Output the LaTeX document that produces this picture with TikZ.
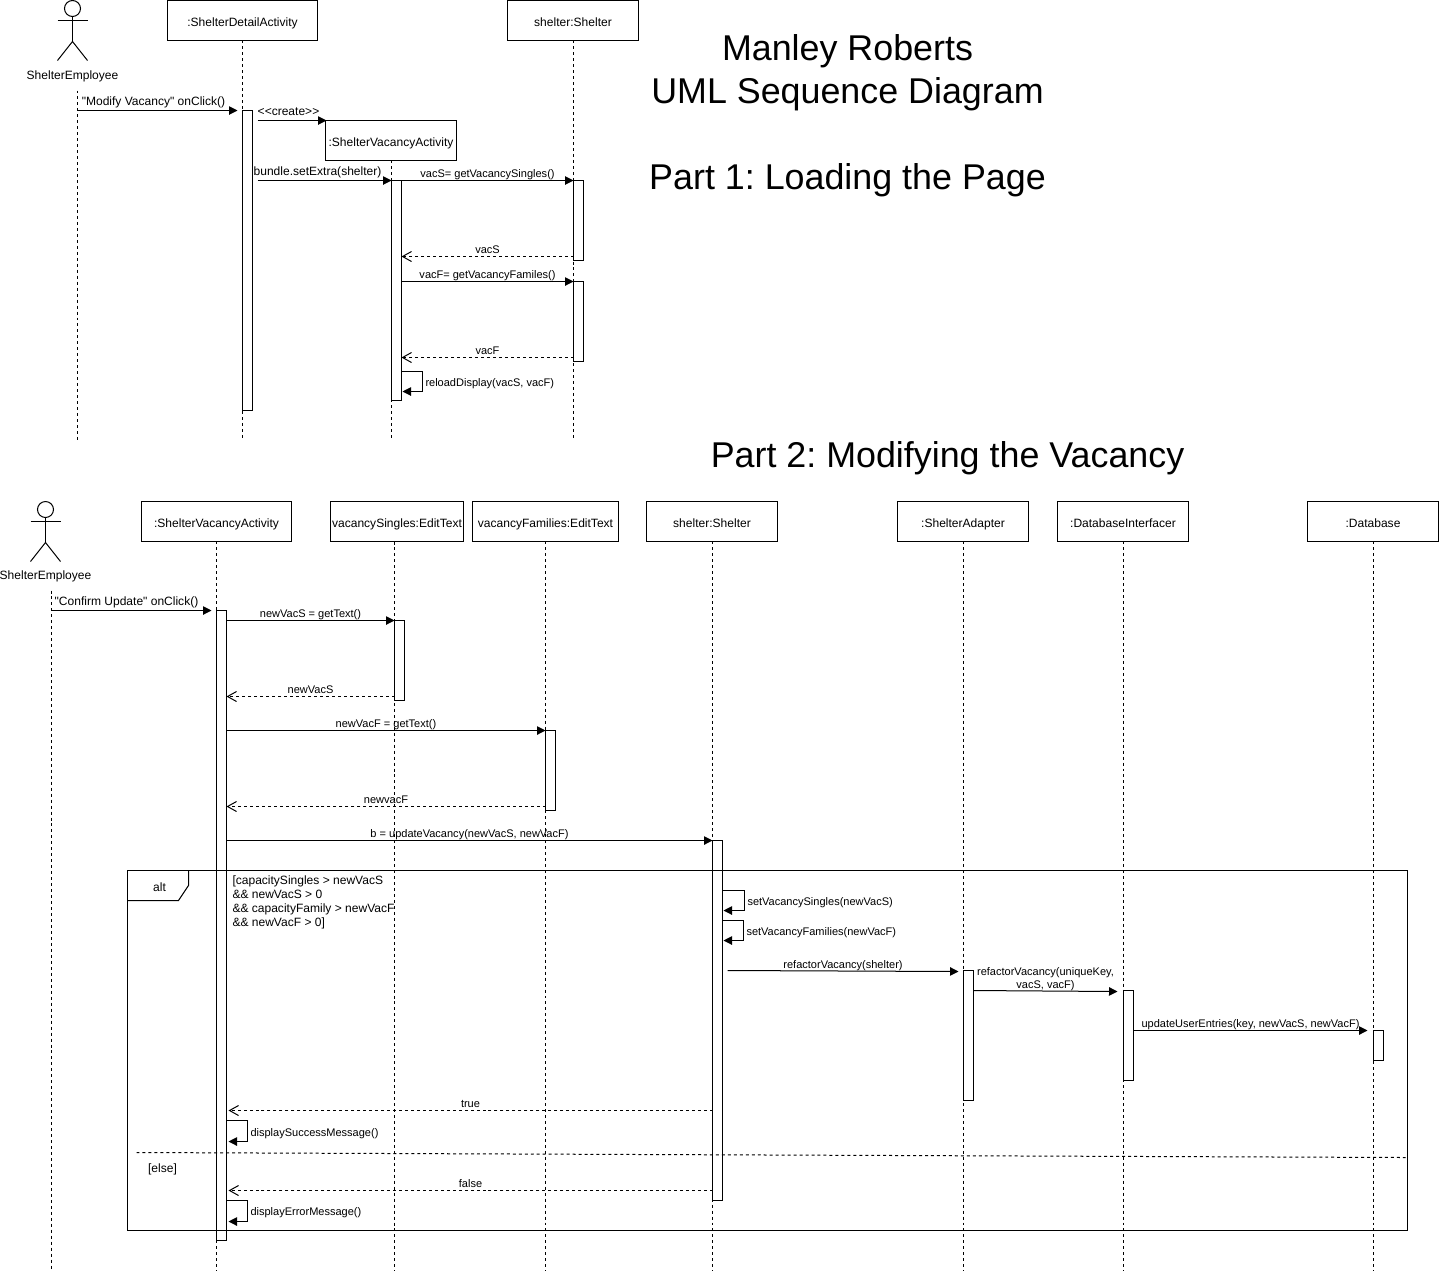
\documentclass[tikz,border=0pt]{standalone}
\usepackage{fontspec}
\setmainfont{Liberation Sans}[Ligatures = TeXOff]
\usetikzlibrary{arrows.meta, positioning}
\frenchspacing
\tikzset{
	uml/.cd,
	text/.style = {
		inner sep = 0,
		outer sep = 0,
		font = \fontsize{6.85}{7.94}\selectfont
	},
	small/.style = {
		inner sep = 0,
		outer sep = 0,
		font = \fontsize{6.27}{7.4}\selectfont
	},
	title/.style = {
		inner sep = 0,
		font = \fontsize{20.4}{24}\selectfont
	},
	object/.style = {
		uml/text,
		draw,
		anchor = north west,
		text height = 0.28cm,
		text depth = 0.04cm,
		minimum width = #1*0.02cm,
		minimum height = 0.8cm
	},
	bar/.style = {
		draw,
		fill = white,
		inner sep = 0,
		outer sep = 0,
		anchor = north west,
		minimum width = 0.2cm,
		minimum height = #1*0.02cm
	},
	lifeline/.style = {
		dash pattern = on 1.7pt off 1.7pt
	},
	call/.style = {
		-{Triangle[length = 0.17cm, width = 0.17cm]}
	},
	reply/.style = {
		dash pattern = on 1.7pt off 1.7pt,
		-{Straight Barb[length = 0.18cm, width = 0.2cm]}
	},
	label/.style = {
		uml/small,
		midway,
		anchor = south,
		align = center,
		text height = 0.16cm,
		text depth = 0.04cm,
		yshift = 0.02cm
	},
	side/.style = {
		uml/small,
		midway,
		anchor = west,
		xshift = 0.06cm,
		yshift = -0.04cm
	},
}
\tikzset{
	pics/stick figure/.style = {
		code = {
			\draw (0, 8) circle [radius = 8];
			\draw (0, 16) -- (0, 41);
			\draw (-15, 20) -- (15, 20);
			\draw (-15, 60) -- (0, 41) -- (15, 60);
		}
	}
}

\begin{document}
\begin{tikzpicture}[x = 0.02cm, y = -0.02cm, line width = 0.57pt]
		\useasboundingbox (0, 0) rectangle (1439, 1272);
		\begin{scope}[shift = {(0.5, 0.5)}]

		% titles
		\node[uml/title] (titleName) at (847, 51) {Manley Roberts};
		\node[uml/title] (titleKind) at (847, 94) {UML Sequence Diagram};
		\node[uml/title] (titleOne) at (847, 180) {Part 1: Loading the Page};
		\node[uml/title] (titleTwo) at (947, 458) {Part 2: Modifying the Vacancy};

		% part 1
		\coordinate (endOne) at (0, 440);
		\pic at (72, 0) {stick figure};
		\node[uml/text] (employeeOne) at (72, 76) {ShelterEmployee};
		\node[uml/object = 150] (detail) at (167, 0) {:ShelterDetailActivity};
		\node[uml/object = 131] (shelterOne) at (507, 0) {shelter:Shelter};
		\node[uml/object = 131] (vacancyOne) at (325, 120) {:ShelterVacancyActivity};

		\coordinate (employeeTop) at (77, 90);
		\draw[uml/lifeline] (employeeTop) -- (employeeTop |- endOne);
		\draw[uml/lifeline] (detail.south) -- (detail.south |- endOne);
		\draw[uml/lifeline] (shelterOne.south) -- (shelterOne.south |- endOne);
		\draw[uml/lifeline] (vacancyOne.south) -- (vacancyOne.south |- endOne);

		\node[uml/bar = 300] (detailBar) at (242, 110) {};
		\node[uml/bar = 220] (vacancyBar) at (391, 180) {};
		\node[uml/bar = 80] (singlesBar) at (573, 180) {};
		\node[uml/bar = 80] (familiesBar) at (573, 281) {};

		\coordinate (clickOne) at (77, 110);
		\coordinate (clickOneEnd) at (237, 110);
		\coordinate (createStart) at (257, 120);
		\coordinate (createEnd) at (326, 120);
		\coordinate (extraStart) at (257, 180);
		\coordinate (replyS) at (573, 256);
		\coordinate (replyF) at (573, 357);
		\coordinate (reload) at (401, 371);
		\draw[uml/call] (clickOne) -- node[uml/label, uml/text, xshift = -0.08cm, yshift = 0.04cm] {"Modify Vacancy" onClick()} (clickOneEnd);
		\draw[uml/call] (createStart) -- node[uml/label, uml/text, xshift = -0.07cm, yshift = 0.04cm] {<<create>>} (createEnd);
		\draw[uml/call] (extraStart) -- node[uml/label, uml/text, xshift = -0.14cm, yshift = 0.04cm] {bundle.setExtra(shelter)} (vacancyBar.north west);
		\draw[uml/call] (vacancyBar.north east) -- node[uml/label] {vacS= getVacancySingles()} (singlesBar.north west);
		\draw[uml/reply] (replyS) -- node[uml/label] {vacS} (vacancyBar.east |- replyS);
		\draw[uml/call] (vacancyBar.east |- familiesBar.north) -- node[uml/label] {vacF= getVacancyFamiles()} (familiesBar.north west);
		\draw[uml/reply] (replyF) -- node[uml/label] {vacF} (vacancyBar.east |- replyF);
		\draw[uml/call] (reload) -- ++(21, 0) -- node[uml/side] {reloadDisplay(vacS, vacF)} ++(0, 20) -- ++(-20, 0);

		% part 2
		\coordinate (endTwo) at (0, 1270);
		\pic at (45, 501) {stick figure};
		\node[uml/text] (employeeTwo) at (45, 576) {ShelterEmployee};
		\node[uml/object = 150] (vacancy) at (141, 501) {:ShelterVacancyActivity};
		\node[uml/object = 133] (singles) at (330, 501) {vacancySingles:EditText};
		\node[uml/object = 146] (families) at (472, 501) {vacancyFamilies:EditText};
		\node[uml/object = 131] (shelter) at (646, 501) {shelter:Shelter};
		\node[uml/object = 131] (adapter) at (897, 501) {:ShelterAdapter};
		\node[uml/object = 131] (interfacer) at (1057, 501) {:DatabaseInterfacer};
		\node[uml/object = 131] (database) at (1307, 501) {:Database};

		\coordinate (employeeTopTwo) at (51, 590);
		\coordinate (singlesTop) at (394, 541);
		\draw[uml/lifeline] (employeeTopTwo) -- (employeeTopTwo |- endTwo);
		\draw[uml/lifeline] (vacancy.south) -- (vacancy.south |- endTwo);
		\draw[uml/lifeline] (singlesTop) -- (singlesTop |- endTwo);
		\draw[uml/lifeline] (families.south) -- (families.south |- endTwo);
		\draw[uml/lifeline] (shelter.south) -- (shelter.south |- endTwo);
		\draw[uml/lifeline] (adapter.south) -- (adapter.south |- endTwo);
		\draw[uml/lifeline] (interfacer.south) -- (interfacer.south |- endTwo);
		\draw[uml/lifeline] (database.south) -- (database.south |- endTwo);

		\node[uml/bar = 630] (vacancyLong) at (216, 610) {};
		\node[uml/bar = 80] (singlesText) at (394, 620) {};
		\node[uml/bar = 80] (familiesText) at (545, 730) {};
		\node[uml/bar = 360] (shelterBar) at (712, 840) {};
		\node[uml/bar = 130] (adapterBar) at (963, 970) {};
		\node[uml/bar = 90] (interfacerBar) at (1123, 990) {};
		\node[uml/bar = 30] (databaseBar) at (1373, 1030) {};

		% alt frame, drawn over the bars
		\node[draw, inner sep = 0, outer sep = 0, anchor = north west, minimum width = 25.6cm, minimum height = 7.2cm] (frame) at (127, 870) {};
		\draw (frame.north west) ++(61, 0) -- ++(0, 15) -- ++(-10, 15) -- ++(-51, 0);
		\node[uml/text] (altTag) at (159, 887) {alt};
		\node[uml/text, anchor = north west, align = left] (guard) at (232, 875) {[capacitySingles > newVacS\\\&\& newVacS > 0\\\&\& capacityFamily > newVacF\\\&\& newVacF > 0]};
		\coordinate (elseLeft) at (136, 1152);
		\coordinate (elseRight) at (1405, 1157);
		\draw[uml/lifeline] (elseLeft) -- (elseRight);
		\node[uml/text] (elseTag) at (162, 1169) {[else]};

		\coordinate (clickTwo) at (51, 610);
		\coordinate (clickTwoEnd) at (211, 610);
		\coordinate (replySingles) at (394, 696);
		\coordinate (replyFamilies) at (545, 806);
		\coordinate (setSingles) at (722, 890);
		\coordinate (setFamilies) at (722, 920);
		\coordinate (refactorStart) at (727, 970);
		\coordinate (refactorEnd) at (958, 971);
		\coordinate (keyEnd) at (1117, 991);
		\coordinate (updateEnd) at (1367, 1030);
		\coordinate (trueStart) at (712, 1110);
		\coordinate (trueEnd) at (228, 1110);
		\coordinate (falseStart) at (712, 1190);
		\coordinate (falseEnd) at (228, 1190);
		\coordinate (success) at (226, 1120);
		\coordinate (failure) at (226, 1200);
		\draw[uml/call] (clickTwo) -- node[uml/label, uml/text, xshift = -0.1cm, yshift = 0.04cm] {"Confirm Update" onClick()} (clickTwoEnd);
		\draw[uml/call] (vacancyLong.east |- singlesText.north) -- node[uml/label] {newVacS = getText()} (singlesText.north west);
		\draw[uml/reply] (replySingles) -- node[uml/label] {newVacS} (vacancyLong.east |- replySingles);
		\draw[uml/call] (vacancyLong.east |- familiesText.north) -- node[uml/label] {newVacF = getText()} (familiesText.north west);
		\draw[uml/reply] (replyFamilies) -- node[uml/label] {newvacF} (vacancyLong.east |- replyFamilies);
		\draw[uml/call] (vacancyLong.east |- shelterBar.north) -- node[uml/label] {b = updateVacancy(newVacS, newVacF)} (shelterBar.north west);
		\draw[uml/call] (setSingles) -- ++(22, 0) -- node[uml/side, yshift = -0.01cm] {setVacancySingles(newVacS)} ++(0, 20) -- ++(-21, 0);
		\draw[uml/call] (setFamilies) -- ++(21, 0) -- node[uml/side, yshift = -0.01cm] {setVacancyFamilies(newVacF)} ++(0, 20) -- ++(-20, 0);
		\draw[uml/call] (refactorStart) -- node[uml/label] {refactorVacancy(shelter)} (refactorEnd);
		\draw[uml/call] (adapterBar.east |- interfacerBar.north) -- node[uml/label] {refactorVacancy(uniqueKey,\\vacS, vacF)} (keyEnd);
		\draw[uml/call] (interfacerBar.east |- databaseBar.north) -- node[uml/label] {updateUserEntries(key, newVacS, newVacF)} (updateEnd);
		\draw[uml/reply] (trueStart) -- node[uml/label] {true} (trueEnd);
		\draw[uml/call] (success) -- ++(21, 0) -- node[uml/side, yshift = -0.01cm] {displaySuccessMessage()} ++(0, 21) -- ++(-19, 0);
		\draw[uml/reply] (falseStart) -- node[uml/label] {false} (falseEnd);
		\draw[uml/call] (failure) -- ++(21, 0) -- node[uml/side] {displayErrorMessage()} ++(0, 21) -- ++(-19, 0);
		\end{scope}
	\end{tikzpicture}
\end{document}
